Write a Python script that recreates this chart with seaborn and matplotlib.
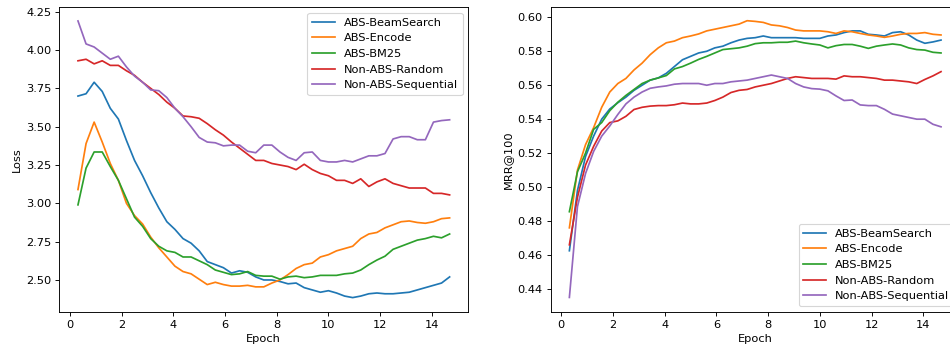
import matplotlib
matplotlib.use("Agg")
import matplotlib.pyplot as plt
import seaborn as sns
import pandas as pd

epochs = [0.3125, 0.625, 0.9375, 1.25, 1.5625, 1.875, 2.1875, 2.5, 2.8125, 3.125,
          3.4375, 3.75, 4.0625, 4.375, 4.6875, 5.0, 5.3125, 5.625, 5.9375, 6.25,
          6.5625, 6.875, 7.1875, 7.5, 7.8125, 8.125, 8.4375, 8.75, 9.0625, 9.375,
          9.6875, 10.0, 10.3125, 10.625, 10.9375, 11.25, 11.5625, 11.875, 12.1875, 12.5,
          12.8125, 13.125, 13.4375, 13.75, 14.0625, 14.375, 14.6875]

series_names = ["ABS-BeamSearch", "ABS-Encode", "ABS-BM25", "Non-ABS-Random", "Non-ABS-Sequential"]

loss_beam = [3.70, 3.715, 3.79, 3.73, 3.62, 3.55, 3.41, 3.28, 3.18, 3.07,
             2.97, 2.88, 2.83, 2.77, 2.74, 2.69, 2.62, 2.60, 2.58, 2.545,
             2.56, 2.55, 2.52, 2.50, 2.50, 2.49, 2.475, 2.48, 2.45, 2.435,
             2.42, 2.43, 2.415, 2.395, 2.385, 2.395, 2.41, 2.415, 2.41, 2.41,
             2.415, 2.42, 2.435, 2.45, 2.465, 2.48, 2.52]
loss_encode = [3.09, 3.39, 3.53, 3.40, 3.26, 3.15, 3.00, 2.92, 2.865, 2.78,
               2.71, 2.65, 2.59, 2.555, 2.54, 2.505, 2.47, 2.485, 2.47, 2.46,
               2.46, 2.465, 2.455, 2.455, 2.48, 2.50, 2.535, 2.575, 2.60, 2.61,
               2.65, 2.665, 2.69, 2.705, 2.72, 2.77, 2.80, 2.81, 2.84, 2.86,
               2.88, 2.885, 2.875, 2.87, 2.88, 2.90, 2.905]
loss_bm25 = [2.99, 3.23, 3.335, 3.335, 3.24, 3.15, 3.03, 2.91, 2.85, 2.77,
             2.72, 2.69, 2.68, 2.65, 2.65, 2.625, 2.60, 2.565, 2.55, 2.535,
             2.54, 2.555, 2.53, 2.525, 2.525, 2.505, 2.52, 2.525, 2.515, 2.52,
             2.53, 2.53, 2.53, 2.54, 2.545, 2.565, 2.60, 2.63, 2.655, 2.70,
             2.72, 2.74, 2.76, 2.77, 2.785, 2.775, 2.80]
loss_random = [3.93, 3.94, 3.91, 3.93, 3.90, 3.90, 3.865, 3.835, 3.79, 3.75,
               3.71, 3.66, 3.62, 3.57, 3.565, 3.555, 3.52, 3.48, 3.445, 3.40,
               3.36, 3.32, 3.28, 3.28, 3.26, 3.25, 3.24, 3.22, 3.255, 3.22,
               3.195, 3.18, 3.15, 3.15, 3.13, 3.16, 3.11, 3.14, 3.16, 3.13,
               3.115, 3.10, 3.10, 3.10, 3.065, 3.065, 3.055]
loss_seq = [4.19, 4.04, 4.02, 3.98, 3.94, 3.96, 3.89, 3.83, 3.79, 3.74,
            3.735, 3.69, 3.62, 3.565, 3.50, 3.43, 3.40, 3.395, 3.375, 3.38,
            3.38, 3.34, 3.33, 3.38, 3.38, 3.335, 3.30, 3.28, 3.33, 3.335,
            3.28, 3.27, 3.27, 3.28, 3.27, 3.29, 3.31, 3.31, 3.325, 3.42,
            3.435, 3.435, 3.415, 3.415, 3.53, 3.54, 3.545]

mrr_beam = [0.4625, 0.498, 0.518, 0.530, 0.540, 0.546, 0.5497, 0.553, 0.557, 0.560,
            0.563, 0.5643, 0.567, 0.571, 0.575, 0.577,
            0.579, 0.580, 0.582, 0.583, 0.585, 0.5866, 0.5876, 0.588, 0.589, 0.588,
            0.588, 0.588, 0.588, 0.5876, 0.5876,
            0.5876, 0.589, 0.5896, 0.591, 0.592, 0.592, 0.590, 0.5896, 0.589, 0.591,
            0.5915, 0.5896, 0.5866, 0.5847, 0.5855, 0.5866]
mrr_encode = [0.476, 0.51, 0.525, 0.535, 0.547, 0.556, 0.561, 0.564, 0.569, 0.573,
              0.578, 0.582, 0.585, 0.586, 0.588, 0.589,
              0.5902, 0.592, 0.593, 0.594, 0.595, 0.596, 0.598, 0.5976, 0.597, 0.5955,
              0.595, 0.594, 0.5925, 0.592, 0.592,
              0.592, 0.5915, 0.5905, 0.592, 0.5915, 0.5905, 0.5896, 0.589, 0.5882, 0.589,
              0.590, 0.5905, 0.5905, 0.591, 0.590, 0.5896]
mrr_bm25 = [0.4855, 0.509, 0.520, 0.534, 0.538, 0.545, 0.550, 0.554, 0.5575, 0.561,
            0.563, 0.5643, 0.5657, 0.5696, 0.571, 0.573,
            0.5752, 0.577, 0.579, 0.581, 0.5815, 0.582, 0.583, 0.5845, 0.585, 0.585,
            0.5853, 0.5853, 0.586, 0.585, 0.5843,
            0.5837, 0.582, 0.5833, 0.584, 0.584, 0.583, 0.5817, 0.583, 0.5837, 0.5843,
            0.5837, 0.582, 0.581, 0.5807, 0.5794, 0.579]
mrr_random = [0.466, 0.494, 0.513, 0.524, 0.533, 0.538, 0.539, 0.5417, 0.5457, 0.547,
              0.5477, 0.548, 0.548, 0.5485, 0.5495, 0.549,
              0.549, 0.5495, 0.551, 0.553, 0.5557, 0.557, 0.5575, 0.559, 0.560, 0.561,
              0.5625, 0.564, 0.565, 0.5645, 0.564,
              0.564, 0.564, 0.5636, 0.5655, 0.565, 0.565, 0.5645, 0.564, 0.563, 0.563,
              0.5625, 0.562, 0.561, 0.5634, 0.5655, 0.568]
mrr_seq = [0.435, 0.4885, 0.508, 0.521, 0.530, 0.536, 0.5428, 0.549, 0.553, 0.556,
           0.5582, 0.559, 0.5596, 0.5606, 0.561, 0.561,
           0.561, 0.560, 0.561, 0.561, 0.562, 0.5625, 0.563, 0.564, 0.565, 0.566,
           0.565, 0.564, 0.561, 0.559, 0.558,
           0.5577, 0.5567, 0.5537, 0.551, 0.5513, 0.5484, 0.548, 0.548, 0.5458, 0.543,
           0.542, 0.541, 0.540, 0.540, 0.537, 0.5355]

loss_series = [loss_beam, loss_encode, loss_bm25, loss_random, loss_seq]
mrr_series = [mrr_beam, mrr_encode, mrr_bm25, mrr_random, mrr_seq]

loss_ticks = [2.50, 2.75, 3.00, 3.25, 3.50, 3.75, 4.00, 4.25]
mrr_ticks = [0.44, 0.46, 0.48, 0.50, 0.52, 0.54, 0.56, 0.58, 0.60]
epoch_ticks = [0, 2, 4, 6, 8, 10, 12, 14]


def long_df(series, value_name):
    rows = []
    for name, vals in zip(series_names, series):
        for e, v in zip(epochs, vals):
            rows.append({"Epoch": e, value_name: v, "Method": name})
    return pd.DataFrame(rows)


df_loss = long_df(loss_series, "Loss")
df_mrr = long_df(mrr_series, "MRR@100")

DPI = 82
fig = plt.figure(figsize=(950 / DPI, 348 / DPI), dpi=DPI)
ax1 = fig.add_axes([59.3 / 950, 36.3 / 348, 409 / 950, 304.4 / 348])
ax2 = fig.add_axes([550.7 / 950, 36.3 / 348, 409 / 950, 304.4 / 348])

palette = sns.color_palette("tab10", 5)

sns.lineplot(data=df_loss, x="Epoch", y="Loss", hue="Method", hue_order=series_names,
             palette=palette, ax=ax1, linewidth=1.5)
sns.lineplot(data=df_mrr, x="Epoch", y="MRR@100", hue="Method", hue_order=series_names,
             palette=palette, ax=ax2, linewidth=1.5)

ax1.legend(loc="upper right", title=None)
ax2.legend(loc="lower right", title=None)

for ax in (ax1, ax2):
    ax.set_xticks(epoch_ticks)
    ax.set_xlim(-0.41, 15.41)
ax1.set_yticks(loss_ticks)
ax1.set_yticklabels([f"{v:.2f}" for v in loss_ticks])
ax2.set_yticks(mrr_ticks)
ax2.set_yticklabels([f"{v:.2f}" for v in mrr_ticks])
ax1.set_ylim(2.293, 4.279)
ax2.set_ylim(0.4266, 0.6059)

fig.savefig("out.png", dpi=DPI)
